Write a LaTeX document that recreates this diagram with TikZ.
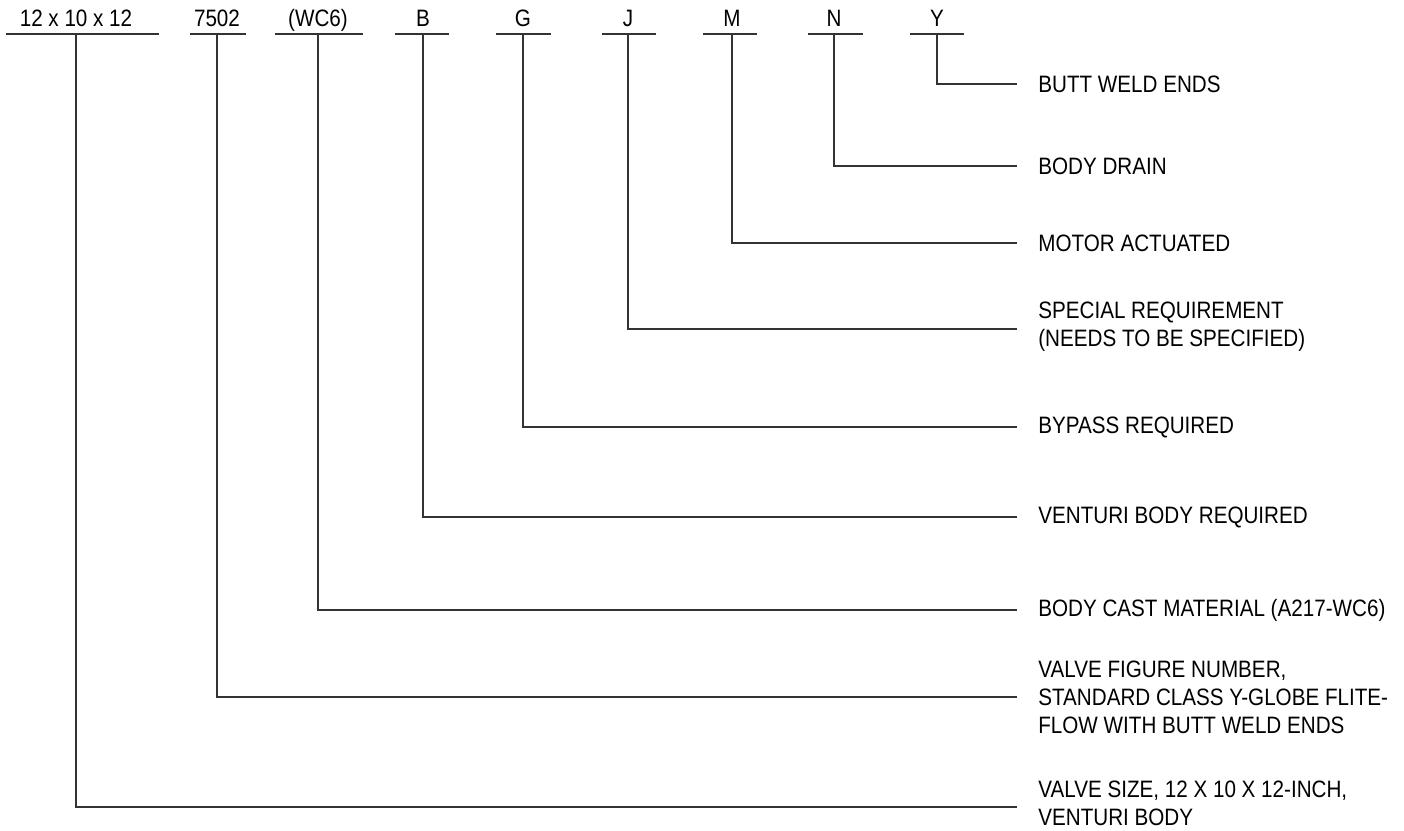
\documentclass[tikz,border=0pt]{standalone}
\usepackage{fontspec}
\setmainfont{Liberation Sans}[FakeStretch=0.87]
\usetikzlibrary{positioning,calc}

\begin{document}
\begin{tikzpicture}[
    x=0.02cm,y=-0.02cm,
    code/.style={anchor=south,inner xsep=0pt,inner ysep=0.14cm,text depth=0pt,font=\fontsize{13.5}{15.9}\selectfont},
    desc/.style={anchor=west,align=left,inner xsep=0.42cm,inner ysep=0pt,font=\fontsize{13.5}{15.9}\selectfont},
    leader/.style={line width=0.6pt,black!80}
]
    \useasboundingbox (0,0) rectangle (1404,831);

    % order code, one field per node
    \node[code] (size)  at (76,34)  {12 x 10 x 12};
    \node[code] (fig)   at (217,34) {7502};
    \node[code] (mat)   at (318,34) {(WC6)};
    \node[code] (vent)  at (423,34) {B};
    \node[code] (byp)   at (523,34) {G};
    \node[code] (spec)  at (628,34) {J};
    \node[code] (motor) at (732,34) {M};
    \node[code] (drain) at (834,34) {N};
    \node[code] (butt)  at (937,34) {Y};

    % underlines
    \draw[leader] (6,34) -- (159,34);
    \draw[leader] (190,34) -- (246,34);
    \draw[leader] (275,34) -- (363,34);
    \draw[leader] (395,34) -- (449,34);
    \draw[leader] (496,34) -- (551,34);
    \draw[leader] (602,34) -- (656,34);
    \draw[leader] (703,34) -- (757,34);
    \draw[leader] (808,34) -- (863,34);
    \draw[leader] (910,34) -- (964,34);

    % meanings
    \node[desc] (buttD)  at (1017,84)  {BUTT WELD ENDS};
    \node[desc] (drainD) at (1017,166) {BODY DRAIN};
    \node[desc] (motorD) at (1017,243) {MOTOR ACTUATED};
    \node[desc] (specD)  at (1017,327) {SPECIAL REQUIREMENT\\(NEEDS TO BE SPECIFIED)};
    \node[desc] (bypD)   at (1017,427) {BYPASS REQUIRED};
    \node[desc] (ventD)  at (1017,517) {VENTURI BODY REQUIRED};
    \node[desc] (matD)   at (1017,610) {BODY CAST MATERIAL (A217-WC6)};
    \node[desc] (figD)   at (1017,697) {VALVE FIGURE NUMBER,\\STANDARD CLASS Y-GLOBE FLITE-\\FLOW WITH BUTT WELD ENDS};
    \node[desc] (sizeD)  at (1017,803) {VALVE SIZE, 12 X 10 X 12-INCH,\\VENTURI BODY};

    \draw[leader] (butt.south) |- (buttD.west);
    \draw[leader] (drain.south) |- (drainD.west);
    \draw[leader] (motor.south) |- (motorD.west);
    \draw[leader] (spec.south) |- ([yshift=-0.04cm]specD.west);
    \draw[leader] (byp.south) |- (bypD.west);
    \draw[leader] (vent.south) |- (ventD.west);
    \draw[leader] (mat.south) |- (matD.west);
    \draw[leader] (fig.south) |- (figD.west);
    \draw[leader] (size.south) |- ([yshift=-0.08cm]sizeD.west);
\end{tikzpicture}
\end{document}
